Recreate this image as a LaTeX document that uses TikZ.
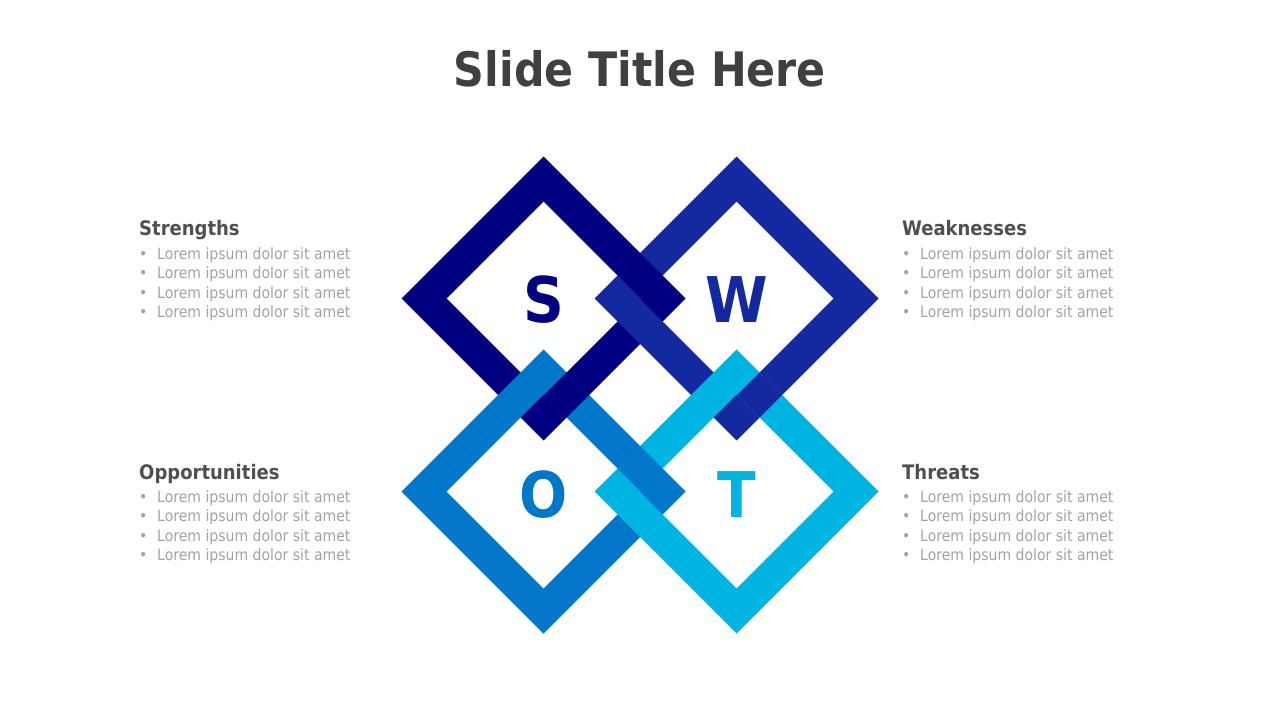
\documentclass[tikz,border=0pt]{standalone}
\usepackage{fontspec}
\setmainfont{DejaVu Sans Condensed}
\definecolor{cS}{HTML}{000080}
\definecolor{cW}{HTML}{1428A0}
\definecolor{cO}{HTML}{0077C8}
\definecolor{cT}{HTML}{00B4E2}
\definecolor{titlegray}{HTML}{404040}
\definecolor{headgray}{HTML}{505050}
\definecolor{bodygray}{HTML}{A3A3A3}
\newcommand\swotframe[3]{\fill[#3,even odd rule] (#1,#2) ++(0,-142) -- ++(142,142) -- ++(-142,142) -- ++(-142,-142) -- cycle (#1,#2) ++(0,-97) -- ++(97,97) -- ++(-97,97) -- ++(-97,-97) -- cycle;}
\newcommand\swotcross[3]{\fill[#3] (#1,#2) ++(0,-22.5) -- ++(22.5,22.5) -- ++(-22.5,22.5) -- ++(-22.5,-22.5) -- cycle;}
\newcommand\swotlist[3]{\foreach \i in {0,...,3} {\node[bodytext] (#1-\i) at (#2,#3+19.3*\i) {\makebox[18pt][l]{\textbullet}Lorem ipsum dolor sit amet};}}
\tikzset{
  bodytext/.style={anchor=base west, inner sep=0pt, text=bodygray, font=\fontsize{15.6}{19}\selectfont},
  headtext/.style={anchor=base west, inner sep=0pt, text=headgray, font=\fontsize{20}{24}\selectfont\bfseries},
  bigletter/.style={inner sep=0pt, font=\fontsize{63}{63}\selectfont\bfseries}
}
\begin{document}
\begin{tikzpicture}[x=1pt,y=-1pt]
\useasboundingbox (0,0) rectangle (1280,720);
\fill[white] (0,0) rectangle (1280,720);
% title
\node[inner sep=0pt, text=titlegray, font=\fontsize{47.5}{48}\selectfont\bfseries] (title) at (640,68.5) {Slide Title Here};
% frames
\swotframe{543.5}{298.5}{cS}
\swotframe{736.5}{298.5}{cW}
\swotframe{543.5}{491.5}{cO}
\swotframe{736.5}{491.5}{cT}
% weave fixes
\swotcross{640}{275.5}{cS}
\swotcross{566.5}{395}{cS}
\swotcross{759.5}{395}{cW}
\swotcross{640}{468.5}{cO}
% letters
\node[bigletter, text=cS] (S) at (543.5,300) {S};
\node[bigletter, text=cW] (W) at (736.5,300) {W};
\node[bigletter, text=cO] (O) at (543.5,495) {O};
\node[bigletter, text=cT] (T) at (736.5,495) {T};
% headings
\node[headtext] (hS) at (139,235) {Strengths};
\node[headtext] (hW) at (902,235) {Weaknesses};
\node[headtext] (hO) at (139,479) {Opportunities};
\node[headtext] (hT) at (902,479) {Threats};
% lists
\swotlist{lS}{139}{259.5}
\swotlist{lW}{902}{259.5}
\swotlist{lO}{139}{502.5}
\swotlist{lT}{902}{502.5}
\end{tikzpicture}
\end{document}
